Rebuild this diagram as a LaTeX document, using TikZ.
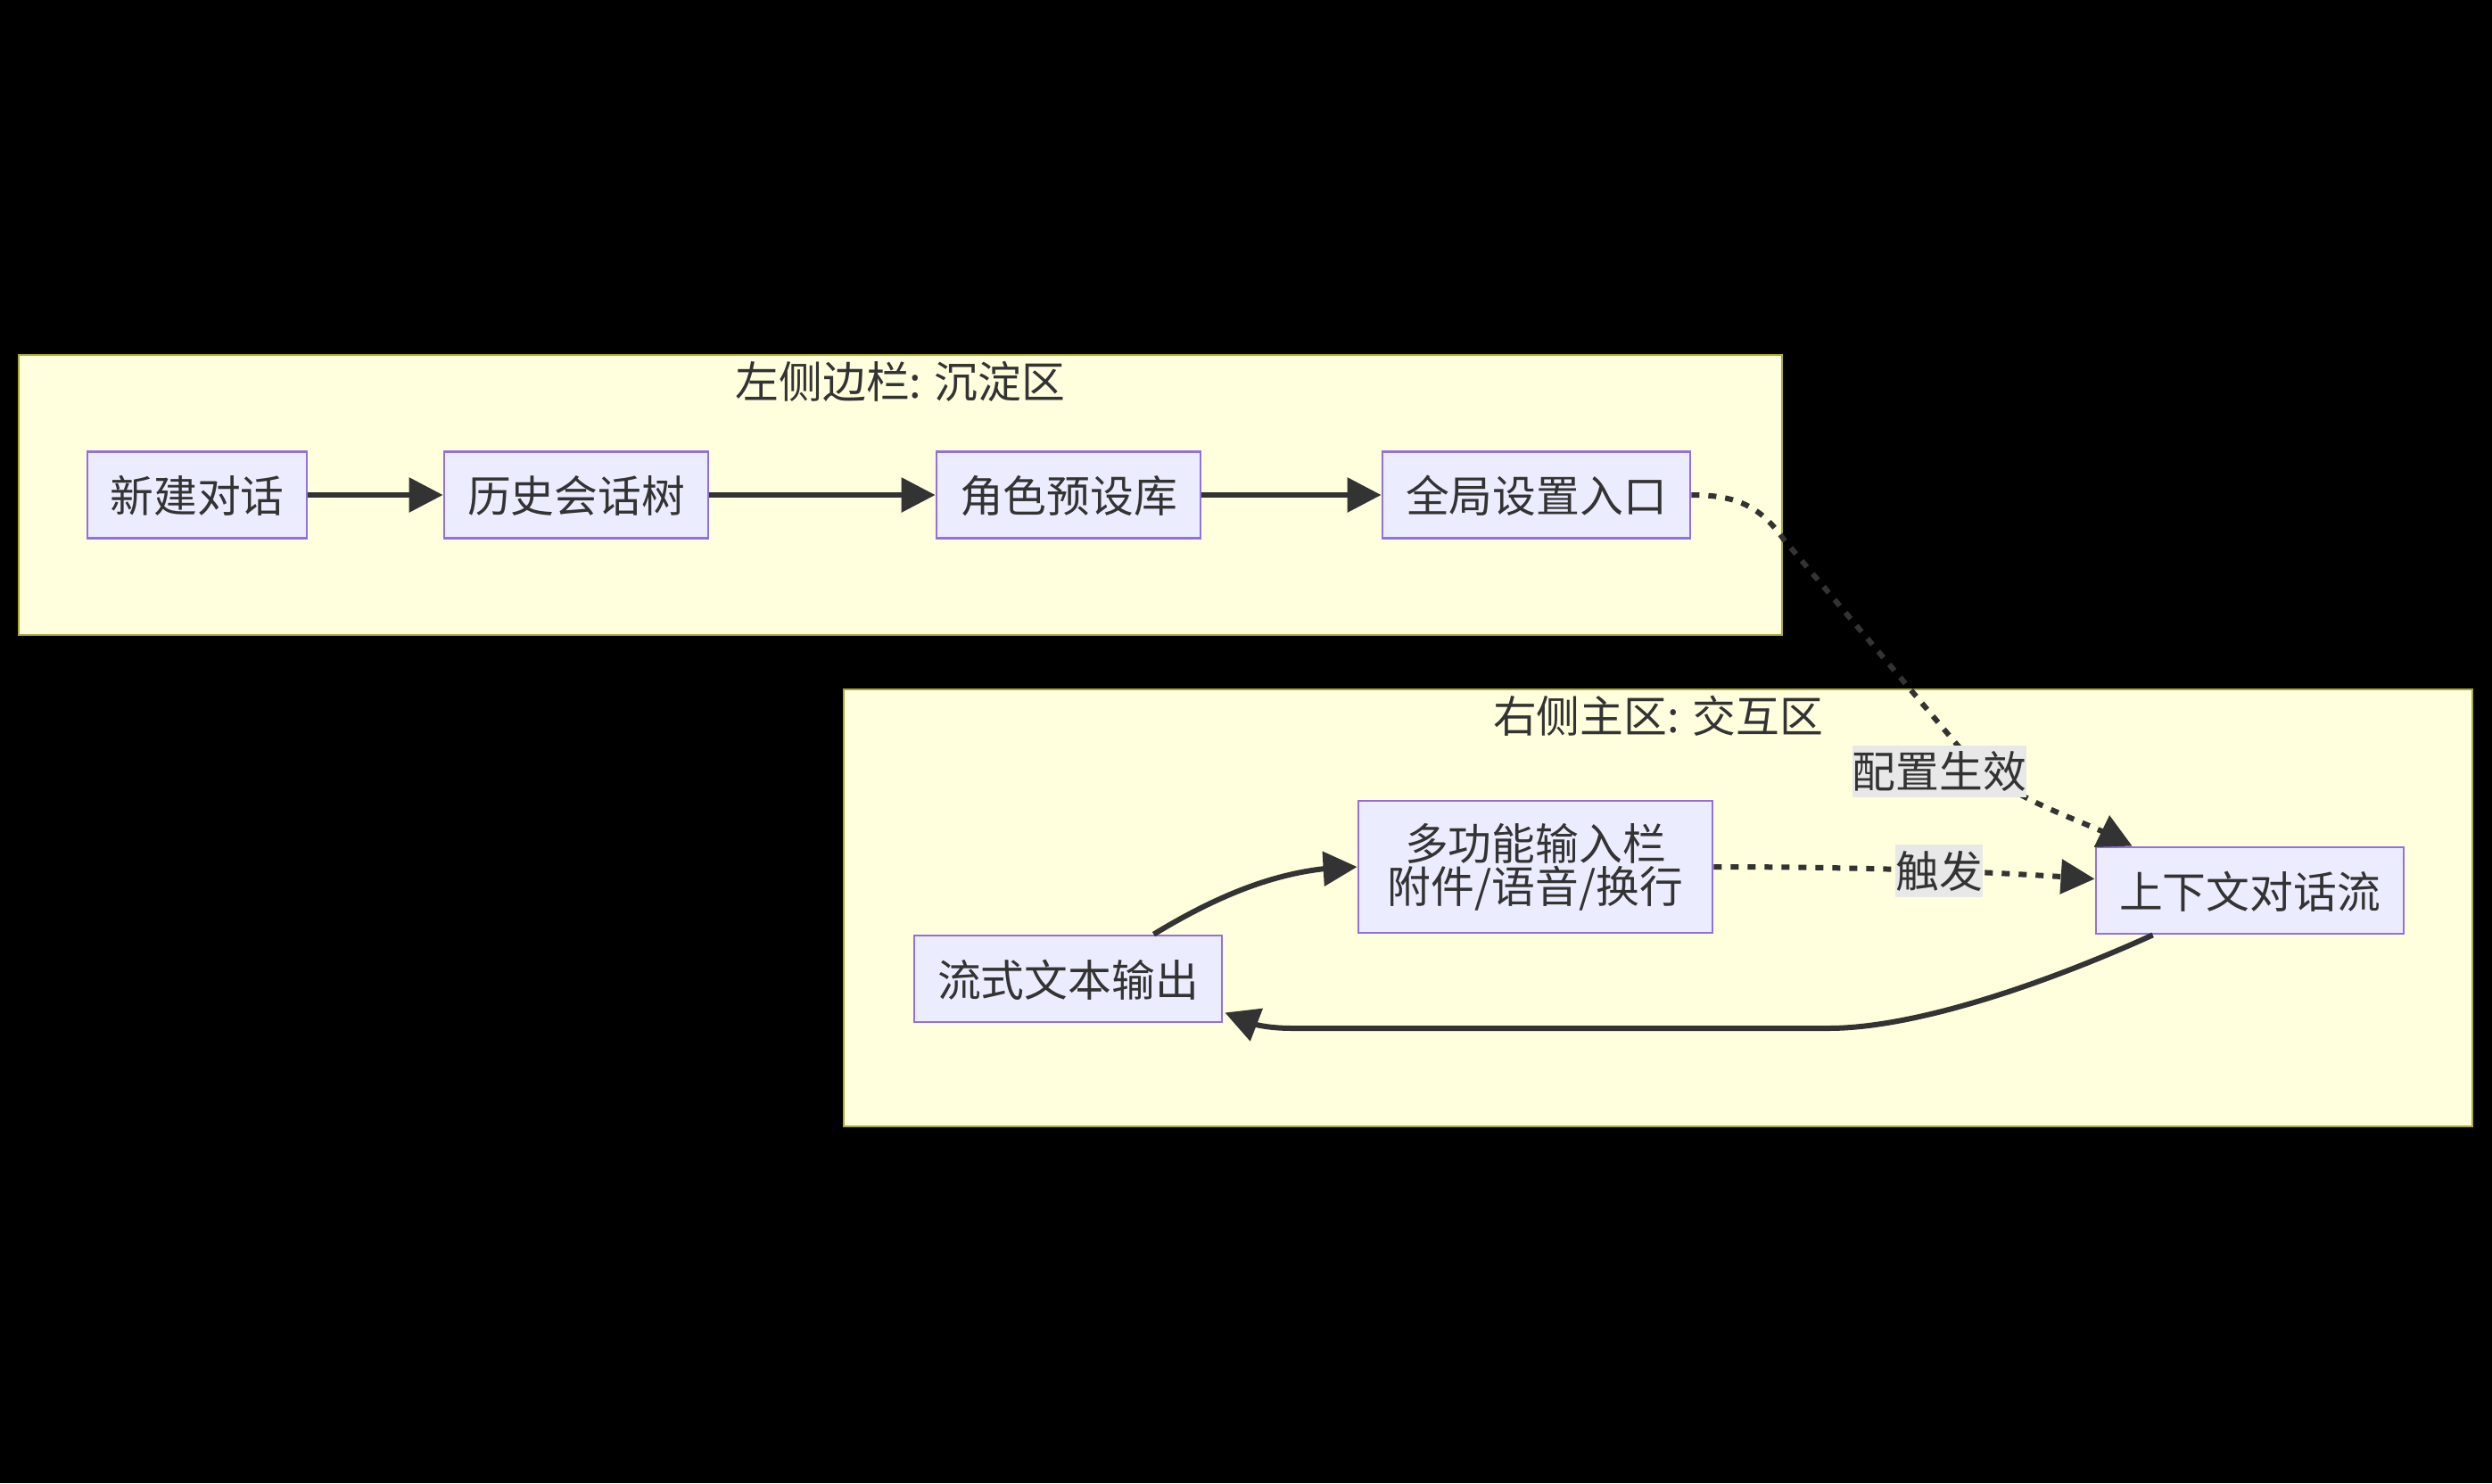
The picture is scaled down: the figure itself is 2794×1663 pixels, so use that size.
\documentclass[tikz,border=0pt]{standalone}
\usepackage{fontspec}
\setmainfont{Noto Sans CJK SC}
\usetikzlibrary{arrows.meta,calc,bending}
\definecolor{txt}{HTML}{333333}
\definecolor{nodefill}{HTML}{ECECFF}
\definecolor{nodeline}{HTML}{9370DB}
\definecolor{clfill}{HTML}{FFFFDE}
\definecolor{clline}{HTML}{AAAA33}
\definecolor{labelbg}{HTML}{E8E8E8}
\definecolor{edgecol}{HTML}{333333}
\begin{document}
\begin{tikzpicture}[x=1pt,y=-1pt,
  every node/.style={font=\fontsize{48.8}{52}\selectfont, text=txt},
  box/.style={draw=nodeline, fill=nodefill, line width=2.8pt, inner sep=0pt,
    minimum height=97pt, align=center, text height=44pt, text depth=4.5pt},
  cluster/.style={draw=clline, fill=clfill, line width=2.8pt},
  title/.style={inner sep=0pt, text height=44pt, text depth=4.5pt},
  elabel/.style={fill=labelbg, inner xsep=0pt, inner ysep=5pt, text height=43pt, text depth=5.5pt},
  edge/.style={draw=edgecol, line width=6pt, -{Triangle[length=38pt,width=38pt,flex]}},
  dotedge/.style={edge, line width=6pt, dash pattern=on 9pt off 10pt}
]
\useasboundingbox (0,0) rectangle (2794,1663);
\fill[black] (0,0) rectangle (2794,1663);

% clusters
\path[cluster] (21,398) rectangle (1998,712);
\node[title] (tA) at (1009.5,427) {左侧边栏: 沉淀区};
\path[cluster] (946,773) rectangle (2772,1263);
\node[title] (tB) at (1859,802) {右侧主区: 交互区};

% nodes
\node[box, minimum width=246pt] (n1) at (221,555) {新建对话};
\node[box, minimum width=296pt] (n2) at (646,555) {历史会话树};
\node[box, minimum width=296pt] (n3) at (1198,555) {角色预设库};
\node[box, minimum width=345pt] (n4) at (1722.5,555) {全局设置入口};
\node[box, minimum width=397pt, minimum height=148pt, text height=, text depth=] (m) at (1721.5,972) {\raisebox{-2pt}{\shortstack{多功能输入栏\\附件/语音/换行}}};
\node[box, minimum width=345pt] (s) at (1197.5,1097.5) {流式文本输出};
\node[box, minimum width=345pt] (c) at (2522.5,998.5) {上下文对话流};

% edges top row
\draw[edge] (n1) -- (n2);
\draw[edge] (n2) -- (n3);
\draw[edge] (n3) -- (n4);

% dotted: settings -> context
\coordinate (cTop) at ($(c.north west)+(42,0)$);
\draw[dotedge] (n4.east) .. controls (1950,555) and (1975,570) .. (2000,605)
  -- (2195,836) .. controls (2250,900) and (2330,915) .. (cTop);
\node[elabel] (l1) at (2174.5,865) {配置生效};

% dotted: input -> context
\coordinate (cLeft) at ($(c.west)+(0,-13)$);
\draw[dotedge] (m.east) .. controls (2050,972) and (2200,975) .. (cLeft);
\node[elabel] (l2) at (2174,976.5) {触发};

% context -> stream output
\coordinate (cBot) at ($(c.south west)+(65,0)$);
\coordinate (sRight) at ($(s.east)+(2,38)$);
\draw[edge] (cBot) .. controls (2300,1100) and (2150,1153) .. (2050,1153)
  -- (1450,1153) .. controls (1415,1153) and (1395,1147) .. (sRight);

% stream output -> input
\coordinate (sTop) at ($(s.north)+(96,0)$);
\draw[edge] (sTop) .. controls (1380,995) and (1450,972) .. (m.west);
\end{tikzpicture}
\end{document}
